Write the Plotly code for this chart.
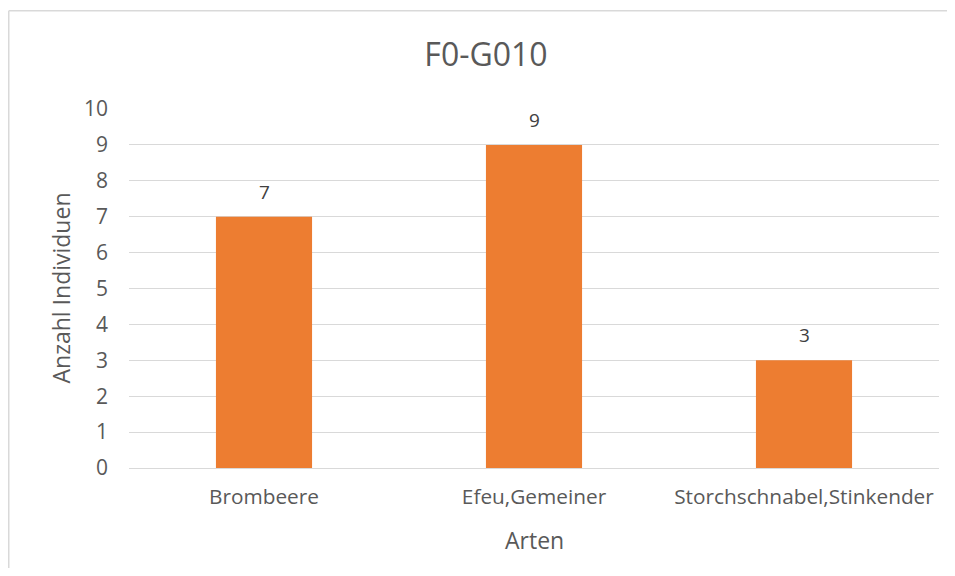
import plotly.graph_objects as go

categories = ["Brombeere", "Efeu,Gemeiner", "Storchschnabel,Stinkender"]
values = [7, 9, 3]
y_ticks = list(range(0, 11))
title = "F0-G010"
x_title = "Arten"
y_title = "Anzahl Individuen"

FONT = "Open Sans, Segoe UI, sans-serif"
GRAY = "#595959"
GRID = "#d9d9d9"

fig = go.Figure(go.Bar(
    x=categories, y=values,
    marker=dict(color="#ED7D31", line=dict(width=0)),
    width=0.356,
    cliponaxis=False,
))

W, H = 939, 560
L, R, T, B = 121, 8, 101, 100

annotations = []
for c, v in zip(categories, values):
    annotations.append(dict(
        x=c, y=v, xref="x", yref="y", text=str(v), showarrow=False,
        yanchor="middle", yshift=25,
        font=dict(family=FONT, size=19, color="#404040"),
    ))
annotations.append(dict(
    x=0.5, y=0, xref="paper", yref="paper", text=x_title, showarrow=False,
    yanchor="middle", yshift=-72, font=dict(family=FONT, size=23, color=GRAY),
))
annotations.append(dict(
    x=0, y=0.5, xref="paper", yref="paper", text=y_title, showarrow=False,
    xanchor="center", yanchor="middle", xshift=-69, textangle=-90,
    font=dict(family=FONT, size=23, color=GRAY),
))

pw, ph = W - L - R, H - T - B
px = lambda v: (v - L) / pw
py = lambda v: (H - B - v) / ph

fig.update_layout(
    width=W, height=H,
    margin=dict(l=L, r=R, t=T, b=B, autoexpand=False),
    paper_bgcolor="white", plot_bgcolor="white",
    showlegend=False,
    font=dict(family=FONT, color=GRAY, size=19),
    title=dict(text=title, x=478 / W, xanchor="center", y=1 - 47 / H, yanchor="middle",
               font=dict(family=FONT, size=32, color=GRAY)),
    xaxis=dict(
        tickfont=dict(family=FONT, size=20.8, color=GRAY),
        showgrid=False, showline=True, linecolor=GRID, linewidth=1,
        ticks="", ticklabelstandoff=10,
    ),
    yaxis=dict(
        tickfont=dict(family=FONT, size=21, color=GRAY),
        range=[0, 10], tickvals=y_ticks,
        showgrid=True, gridcolor=GRID, gridwidth=1,
        zeroline=False, showline=False, ticks="", ticklabelstandoff=20,
    ),
    annotations=annotations,
    shapes=[
        dict(type="line", xref="paper", yref="paper",
             x0=px(0.75), x1=px(W + 20), y0=py(2.75), y1=py(2.75),
             line=dict(color="#d9d9d9", width=1.5), layer="below"),
        dict(type="line", xref="paper", yref="paper",
             x0=px(0.75), x1=px(0.75), y0=py(2.75), y1=py(H + 20),
             line=dict(color="#d9d9d9", width=1.5), layer="below"),
    ],
)

fig.write_html("out.html")
